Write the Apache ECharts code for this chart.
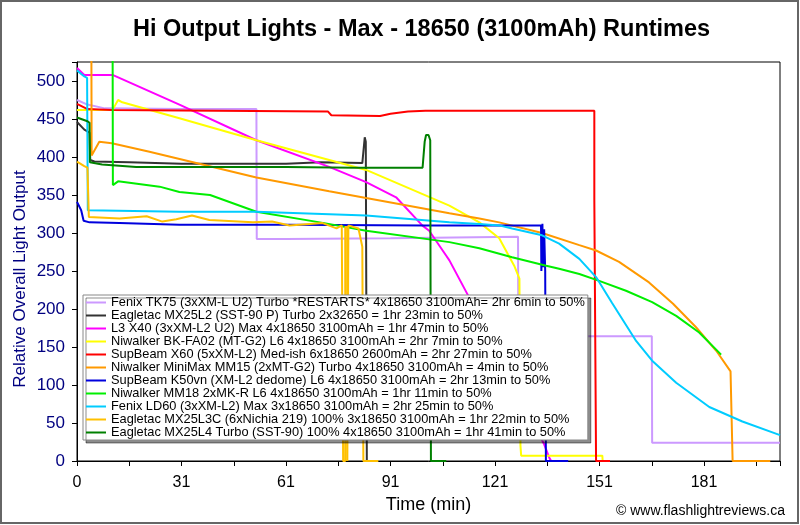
<!DOCTYPE html>
<html><head><meta charset="utf-8">
<script src="https://cdn.jsdelivr.net/npm/echarts@6/dist/echarts.min.js"></script>
<style>html,body{margin:0;padding:0;background:#fff}#c{width:800px;height:525px}</style>
</head><body><div id="c"></div>
<script>
// ---- data (time in minutes, relative overall light output) ----
const xTickLabels = ['0', '31', '61', '91', '121', '151', '181'];

const fenixTK75 = [[0,475],[3,469],[8,464],[30,463],[51.5,463],[51.6,292],[60,292],[90,293],[126.6,295],[126.7,164],[165,164],[165.1,24],[201.8,24]];
const eagletacMX25L2 = [[0,446],[2.1,436],[3.6,432],[3.8,396],[5,394],[15,393],[30,391],[60,391],[70,393],[81.9,392],[82.6,426],[82.9,420],[83.2,0],[85,0]];
const l3X40 = [[0,517],[2.1,508],[10.2,508],[29.4,469],[51.5,422],[72.4,387],[83,367],[91.6,347],[99.1,310],[101.1,303],[106,270],[106.9,264],[112.6,215],[118.3,162],[124,110],[129.8,60],[134.1,22],[135.5,5],[136.1,0]];
const niwalkerBKFA02 = [[0,462],[10.2,462],[11.8,475],[13,472],[29.4,451],[51.5,422],[83,383],[106.9,336],[115.5,314],[121.2,293],[125.5,257],[127,240],[127.3,20],[127.5,7],[150.8,7],[150.9,0]];
const supBeamX60 = [[0,470],[3,463],[10,462],[40,461],[72,460],[73,455],[87,454],[90,457],[95,460],[100,461],[148.5,461],[148.5,344],[149,344],[149,0],[153,0]];
const miniMaxMM15 = [[0,600],[4.1,600],[4.2,402],[4.6,400],[6.4,420],[10,418],[20.8,407],[51.5,373],[72.4,355],[83,346],[106.9,326],[115.5,319],[121.2,314],[133.5,300],[144.2,284],[149,277],[155.6,262],[164.2,235],[171.1,207],[177.7,176],[183.5,145],[187.6,118],[188.2,0],[199,0]];
const supBeamK50vn = [[0,341],[1.2,330],[1.9,316],[3.6,314],[12.2,313],[29.4,311],[60,311],[100,310],[133.2,310],[133.3,250],[133.6,312],[133.8,255],[134.1,305],[134.4,250],[134.6,0],[141,0]];
const niwalkerMM18 = [[0,600],[10.2,600],[10.3,363],[11.8,368],[23.7,361],[29.4,354],[38.2,350],[51.5,328],[71,313],[83,303],[106.9,288],[115.5,280],[124.9,268],[134.7,257],[138.4,253],[144.2,246],[149.9,237],[157.6,224],[165.1,209],[172,191],[178.6,169],[184.9,140]];
const fenixLD60 = [[0,514],[2.1,506],[2.9,504],[3.1,330],[3.6,328],[29.4,328],[51.5,328],[83,323],[106.9,314],[115.5,312],[121.2,310],[124.9,306],[133.5,297],[138.4,286],[144.2,266],[149,242],[153.6,208],[160.5,158],[165.1,132],[172,103],[181.5,71],[191,52],[201.8,34]];
const eagletacMX25L3C = [[0,394],[2.1,388],[3,386],[3.4,321],[3.6,319],[12.2,319],[20,322],[24.5,315],[28.5,318],[33,323],[38,317],[50.5,314],[56,315],[61,310],[70.5,313],[74.5,306],[76,310],[76.4,310],[76.4,0],[77,0],[77,308],[77.6,308],[77.6,0],[77.9,0],[77.9,310],[80.8,306],[81.9,282],[82.2,282],[82.2,0],[86.5,0]];
const eagletacMX25L4 = [[0,452],[3,447],[3.6,445],[3.7,393],[7.2,390],[17,387],[30,387],[60,387],[80,386],[99.2,386],[99.8,420],[100.2,429],[100.9,429],[101.4,422],[101.6,0],[106,0]];

const seriesNames = [
  'Fenix TK75 (3xXM-L U2) Turbo *RESTARTS* 4x18650 3100mAh= 2hr 6min to 50%',
  'Eagletac MX25L2 (SST-90 P) Turbo 2x32650 = 1hr 23min to 50%',
  'L3 X40 (3xXM-L2 U2) Max 4x18650 3100mAh = 1hr 47min to 50%',
  'Niwalker BK-FA02 (MT-G2) L6 4x18650 3100mAh = 2hr 7min to 50%',
  'SupBeam X60 (5xXM-L2) Med-ish 6x18650 2600mAh = 2hr 27min to 50%',
  'Niwalker MiniMax MM15 (2xMT-G2) Turbo 4x18650 3100mAh = 4min to 50%',
  'SupBeam K50vn (XM-L2 dedome) L6 4x18650 3100mAh = 2hr 13min to 50%',
  'Niwalker MM18 2xMK-R L6 4x18650 3100mAh = 1hr 11min to 50%',
  'Fenix LD60 (3xXM-L2) Max 3x18650 3100mAh = 2hr 25min to 50%',
  'Eagletac MX25L3C (6xNichia 219) 100% 3x18650 3100mAh = 1hr 22min to 50%',
  'Eagletac MX25L4 Turbo (SST-90) 100% 4x18650 3100mAh = 1hr 41min to 50%'
];
const seriesData = [fenixTK75, eagletacMX25L2, l3X40, niwalkerBKFA02, supBeamX60, miniMaxMM15, supBeamK50vn, niwalkerMM18, fenixLD60, eagletacMX25L3C, eagletacMX25L4];
const seriesColors = ['#CC99FF', '#333333', '#FF00FF', '#FFFF00', '#FF0000', '#FF9900', '#0000DD', '#00EE00', '#00CCFF', '#FFC000', '#008000'];

const FONT = 'Liberation Sans, Arial, sans-serif';
const chart = echarts.init(document.getElementById('c'), null, { renderer: 'canvas' });

const series = seriesNames.map((n, i) => ({
  name: n,
  type: 'line',
  data: seriesData[i],
  symbol: 'none',
  showSymbol: false,
  color: seriesColors[i],
  lineStyle: { width: 2, color: seriesColors[i] },
  clip: true,
  animation: false
}));

chart.setOption({
  animation: false,
  backgroundColor: '#fff',
  title: {
    text: 'Hi Output Lights - Max - 18650 (3100mAh) Runtimes',
    left: 128, top: 13,
    textStyle: { fontSize: 23.5, fontWeight: 'bold', fontFamily: FONT, color: '#000' }
  },
  grid: { left: 77, right: 20, top: 62, bottom: 64, show: true, borderColor: '#000', borderWidth: 1, backgroundColor: '#fff' },
  xAxis: {
    type: 'value', min: 0, max: 201.8, interval: 30,
    axisLine: { show: true, lineStyle: { color: '#000', width: 1 } },
    axisTick: { show: true, length: 5, lineStyle: { color: '#000' } },
    minorTick: { show: true, splitNumber: 2, length: 5, lineStyle: { color: '#000' } },
    splitLine: { show: false }, minorSplitLine: { show: false },
    axisLabel: {
      color: '#000', fontSize: 16, fontFamily: FONT, margin: 14,
      formatter: function (v) { const i = Math.round(v / 30); return (Math.abs(v - i * 30) < 1e-6 && i < xTickLabels.length) ? xTickLabels[i] : ''; }
    },
    name: 'Time (min)', nameLocation: 'middle', nameGap: 35,
    nameTextStyle: { fontSize: 18, color: '#000', fontFamily: FONT }
  },
  yAxis: {
    type: 'value', min: 0, max: 525, interval: 50,
    axisLine: { show: true, lineStyle: { color: '#000', width: 1 } },
    axisTick: { show: true, length: 5, lineStyle: { color: '#000' } },
    splitLine: { show: false },
    axisLabel: {
      color: '#000080', fontSize: 17, fontFamily: FONT, margin: 12,
      formatter: function (v) { return (v % 50 === 0) ? String(v) : ''; }
    }
  },
  legend: {
    orient: 'vertical', left: 83, top: 295,
    icon: 'rect', itemWidth: 20, itemHeight: 2, itemGap: 0,
    padding: [1, 3, 1, 3],
    backgroundColor: '#fff', borderColor: '#888', borderWidth: 1,
    shadowColor: 'rgba(0,0,0,0.45)', shadowOffsetX: 3, shadowOffsetY: 3, shadowBlur: 0,
    selectedMode: false,
    textStyle: { fontSize: 12.8, fontFamily: FONT, color: '#000', lineHeight: 12.84 },
    data: seriesNames
  },
  graphic: [
    { type: 'rect', shape: { x: 1, y: 1, width: 797, height: 522 }, style: { fill: null, stroke: '#666', lineWidth: 2 }, silent: true, z: 100 },
    { type: 'text', x: 20, y: 279, rotation: Math.PI / 2, style: { text: 'Relative Overall Light Output', fill: '#000080', font: '17px ' + FONT, align: 'center', verticalAlign: 'middle' } },
    { type: 'text', x: 785, y: 511, style: { text: '\u00A9 www.flashlightreviews.ca', fill: '#000', font: '14px ' + FONT, align: 'right', verticalAlign: 'middle' } }
  ],
  series: series
});
</script>
</body></html>
